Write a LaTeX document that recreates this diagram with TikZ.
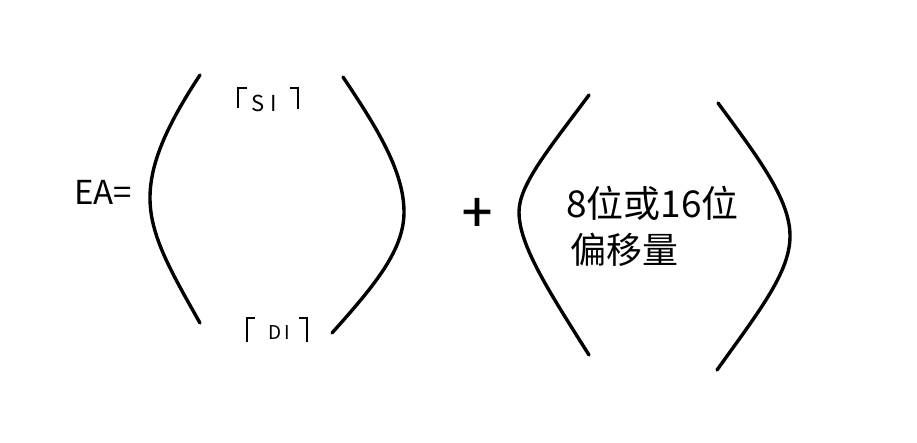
\documentclass[tikz,border=0pt]{standalone}
\usepackage{fontspec}
\setmainfont{Noto Sans CJK SC}
\newfontfamily\plusfont[FakeBold=1.5]{Noto Sans CJK SC}
\begin{document}
\begin{tikzpicture}[x=1pt,y=-1pt,
  paren/.style={line width=3.4pt,line cap=round},
  brk/.style={line width=2pt},
  lbl/.style={inner sep=0pt,anchor=west}]
\useasboundingbox (0,0) rectangle (917,443);
% EA=
\node[lbl,font=\fontsize{33}{33}\selectfont] (ea) at (74,192) {EA=};
% first pair
\draw[paren] (200,75) .. controls (165,128) and (150,165) .. (150,198) .. controls (150,235) and (170,270) .. (200,323);
\draw[paren] (343,77) .. controls (375,125) and (404,170) .. (404,212) .. controls (404,250) and (375,285) .. (332,333);
% [SI]
\draw[brk] (247,88) -- (238,88) -- (238,108);
\draw[brk] (290,88) -- (298,88) -- (298,109);
\node[lbl,font=\fontsize{22}{22}\selectfont] (si) at (251,103) {S\hspace{6pt}I};
% [DI]
\draw[brk] (255,318) -- (247,318) -- (247,342);
\draw[brk] (299,318) -- (307,318) -- (307,342);
\node[lbl,font=\fontsize{19}{19}\selectfont] (di) at (268,333) {D\hspace{3pt}I};
% plus
\node[font=\plusfont\fontsize{54}{54}\selectfont] (plus) at (477,215) {+};
% second pair
\draw[paren] (589,95) .. controls (548,150) and (519,185) .. (519,212) .. controls (519,245) and (548,290) .. (589,355);
\draw[paren] (718,103) .. controls (760,160) and (790,200) .. (790,236) .. controls (790,272) and (760,310) .. (717,370);
\node[lbl,font=\fontsize{37}{37}\selectfont] (t1) at (566,203) {8位或16位};
\node[lbl,font=\fontsize{36}{36}\selectfont] (t2) at (570,250) {偏移量};
\end{tikzpicture}
\end{document}
